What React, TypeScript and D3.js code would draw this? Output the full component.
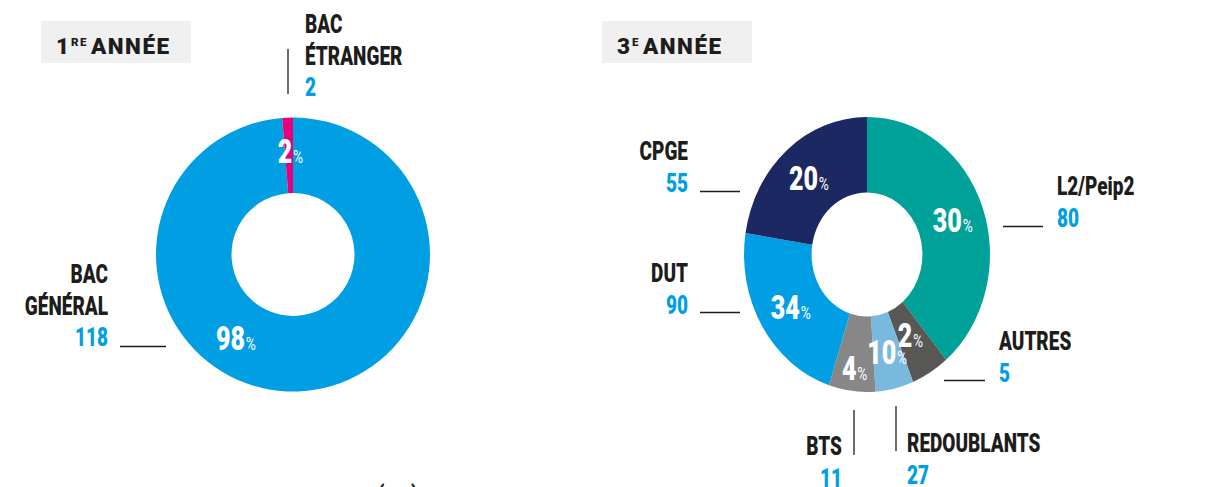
import React from "react";
import * as d3 from "d3";

// ---------- DATA ----------
const firstYearCategories = ["BAC GÉNÉRAL", "BAC ÉTRANGER"];
const firstYearCounts = [118, 2];
const firstYearPercents = [98, 2];
// slice sweep (degrees) as drawn in the picture
const firstYearSweep = [355.5, 4.5];

const thirdYearCategories = ["L2/Peip2", "AUTRES", "REDOUBLANTS", "BTS", "DUT", "CPGE"];
const thirdYearCounts = [80, 5, 27, 11, 90, 55];
const thirdYearPercents = [30, 2, 10, 4, 34, 20];
// slice sweep (degrees) as drawn in the picture
const thirdYearSweep = [140, 18, 18, 22, 81, 81];

const titles = ["1RE ANNÉE", "3E ANNÉE"];

// ---------- STYLE / LAYOUT ----------
const firstColors = ["#009fe3", "#e6007e"];
const thirdColors = ["#00a199", "#575756", "#7ab9de", "#878787", "#009fe3", "#1b2861"];
const BLUE = "#009fe3";
const INK = "#1d1d1b";
const COND = "Roboto, 'Liberation Sans', sans-serif";
const SQUEEZE = 0.76;
const TITLE_FONT = "Roboto, 'Open Sans', sans-serif";

type LabelLayout = {
  x: number;
  y: number; // baseline of first name line
  anchor: "start" | "end";
  lines: string[];
  line: [number, number, number, number];
};

const firstLabels: LabelLayout[] = [
  { x: 108, y: 283, anchor: "end", lines: ["BAC", "GÉNÉRAL"], line: [120, 346.5, 166, 346.5] },
  { x: 305, y: 33, anchor: "start", lines: ["BAC", "ÉTRANGER"], line: [288, 49, 288, 94] },
];
const thirdLabels: LabelLayout[] = [
  { x: 1057, y: 195, anchor: "start", lines: ["L2/Peip2"], line: [1003, 226.5, 1043, 226.5] },
  { x: 999, y: 350, anchor: "start", lines: ["AUTRES"], line: [944, 380.5, 985, 380.5] },
  { x: 907, y: 452, anchor: "start", lines: ["REDOUBLANTS"], line: [896, 406, 896, 451] },
  { x: 842, y: 455, anchor: "end", lines: ["BTS"], line: [854, 410, 854, 455] },
  { x: 688, y: 282, anchor: "end", lines: ["DUT"], line: [700, 312.5, 740, 312.5] },
  { x: 688, y: 160, anchor: "end", lines: ["CPGE"], line: [700, 191.5, 740, 191.5] },
];

// percent label polar placement: [angleDeg | null (=centroid), radius]
const firstPctPlace: [number | null, number][] = [[214.5, 101], [-1.5, 104]];
const thirdPctPlace: [number | null, number][] = [
  [null, 102], [null, 94], [null, 100], [null, 114], [null, 100], [null, 100],
];

const LINE_GAP = 31.5;

function CText({
  x, y, anchor = "start", children, ...rest
}: { x: number; y: number; anchor?: string; children: React.ReactNode; [k: string]: any }) {
  return (
    <text transform={`translate(${x},${y}) scale(${SQUEEZE},1)`} textAnchor={anchor} {...rest}>
      {children}
    </text>
  );
}

function Donut({
  cx, cy, rOuter, rInner, sx, sweep, colors, percents, place,
}: {
  cx: number; cy: number; rOuter: number; rInner: number; sx: number;
  sweep: number[]; colors: string[]; percents: number[]; place: [number | null, number][];
}) {
  const pie = d3.pie<number>().sort(null).value((d) => d).startAngle(0).endAngle(2 * Math.PI);
  const arcs = pie(sweep);
  const arc = d3.arc<d3.PieArcDatum<number>>().innerRadius(rInner).outerRadius(rOuter);
  return (
    <g>
      <g transform={`translate(${cx},${cy}) scale(${sx},1)`}>
        {arcs.map((a, i) => (
          <path key={i} d={arc(a) || ""} fill={colors[i]} />
        ))}
      </g>
      {arcs.map((a, i) => {
        const [deg, r] = place[i];
        const ang = deg === null ? (a.startAngle + a.endAngle) / 2 : (deg * Math.PI) / 180;
        const x = cx + Math.sin(ang) * r * sx;
        const y = cy - Math.cos(ang) * r;
        return (
          <CText key={i} x={x} y={y + 12} anchor="middle" fill="#fff" fontFamily={COND}>
            <tspan fontSize={33} fontWeight={900}>{percents[i]}</tspan>
            <tspan fontSize={18} fontWeight={400} dx={1}>%</tspan>
          </CText>
        );
      })}
    </g>
  );
}

function Labels({ labels, counts }: { labels: LabelLayout[]; counts: number[] }) {
  return (
    <g fontFamily={COND} fontWeight={900} fontSize={25}>
      {labels.map((l, i) => (
        <g key={i}>
          <line x1={l.line[0]} y1={l.line[1]} x2={l.line[2]} y2={l.line[3]} stroke={INK} strokeWidth={1.3} />
          {l.lines.map((s, j) => (
            <CText key={j} x={l.x} y={l.y + j * LINE_GAP} anchor={l.anchor} fill={INK}>
              {s}
            </CText>
          ))}
          <CText x={l.x} y={l.y + l.lines.length * LINE_GAP} anchor={l.anchor} fill={BLUE}>
            {counts[i]}
          </CText>
        </g>
      ))}
    </g>
  );
}

function Title({ x, w, label }: { x: number; w: number; label: string }) {
  const first = label.split(" ")[0];
  const rest = label.slice(first.length + 1);
  const digit = first[0];
  const sup = first.slice(1);
  return (
    <g>
      <rect x={x} y={21} width={w} height={42} fill="#f0f0f0" />
      <text x={x + 15} y={54} fontFamily={TITLE_FONT} fontWeight={900} fontSize={22.5} fill={INK} letterSpacing={1.5}>
        <tspan>{digit}</tspan>
        <tspan fontSize={11.5} dy={-8} dx={0.5}>{sup}</tspan>
        <tspan dy={8} dx={3}>{rest}</tspan>
      </text>
    </g>
  );
}

export default function App() {
  return (
    <div style={{ position: "absolute", left: 0, top: 0, width: 1222, height: 487, overflow: "hidden", background: "#fff" }}>
      <svg width={1222} height={487} style={{ display: "block" }}>
        <rect width={1222} height={487} fill="#fff" />
        <Title x={41} w={150} label={titles[0]} />
        <Title x={602} w={150} label={titles[1]} />

        <Donut
          cx={293} cy={254.5} rOuter={137} rInner={61.5} sx={1}
          sweep={firstYearSweep} colors={firstColors} percents={firstYearPercents} place={firstPctPlace}
        />
        <Labels labels={firstLabels} counts={firstYearCounts} />

        <Donut
          cx={867} cy={254.5} rOuter={137.5} rInner={62} sx={0.8945}
          sweep={thirdYearSweep} colors={thirdColors} percents={thirdYearPercents} place={thirdPctPlace}
        />
        <Labels labels={thirdLabels} counts={thirdYearCounts} />

        {/* cut-off caption at bottom edge */}
        <CText x={377} y={505} fontFamily={COND} fontWeight={700} fontSize={28} fill={INK}>(</CText>
        <CText x={411} y={505} fontFamily={COND} fontWeight={700} fontSize={28} fill={INK}>)</CText>
        <title>{firstYearCategories.concat(thirdYearCategories).join(", ")}</title>
      </svg>
    </div>
  );
}
